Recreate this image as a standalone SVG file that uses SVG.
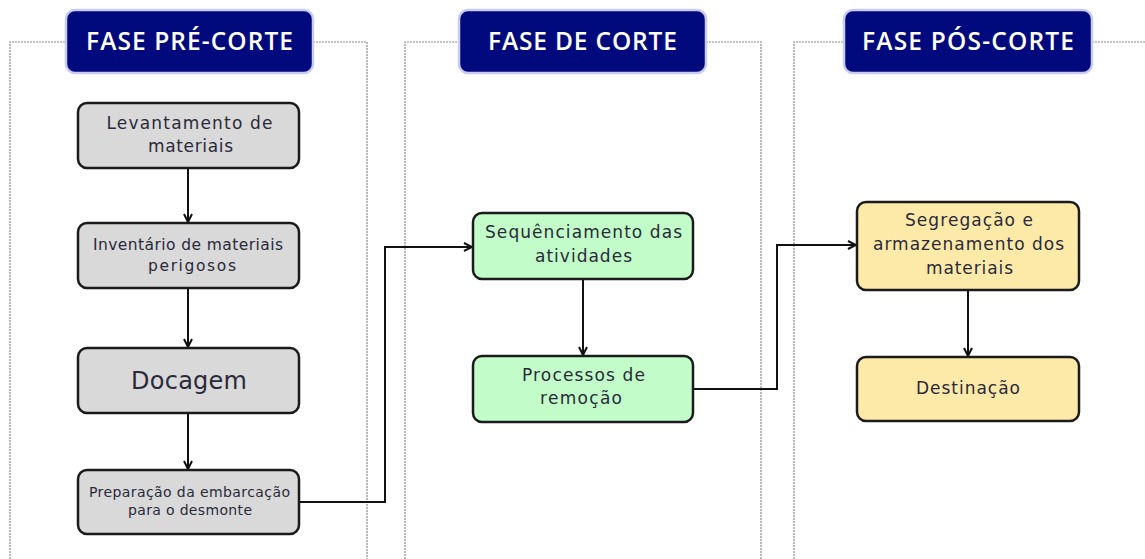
<svg xmlns="http://www.w3.org/2000/svg" width="1145" height="559" viewBox="0 0 1145 559">
<defs>
<marker id="ah" viewBox="0 0 10 10" refX="9" refY="5" markerWidth="5" markerHeight="5" orient="auto-start-reverse" markerUnits="strokeWidth">
<path d="M1,1 L9,5 L1,9" fill="none" stroke="#111" stroke-width="2"/>
</marker>
<style>
.frame{fill:none;stroke:#8a8a8a;stroke-width:1.2;stroke-dasharray:2 1}
.hdr rect{fill:#010a7c;stroke:#c9cbf0;stroke-width:2.5}
.hdr text{fill:#fff;font-family:"Open Sans","Liberation Sans",sans-serif;font-weight:600;font-size:24.5px;text-anchor:middle}
.node rect{stroke:#1b1b1b;stroke-width:2.5}
.gray rect{fill:#d9d9d9}
.green rect{fill:#c2fcc8}
.yellow rect{fill:#fde9a8}
.node text{fill:#2a2a3a;font-family:"DejaVu Sans","Open Sans",sans-serif;font-size:17px;text-anchor:middle}
.conn path{fill:none;stroke:#111;stroke-width:2;marker-end:url(#ah)}
</style>
</defs>
<rect width="1145" height="559" fill="#fff"/>
<g id="frames">
<path class="frame" d="M10,559 V42 H66 M313,42 H367 V559"/>
<path class="frame" d="M405,559 V42 H459 M706,42 H761 V559"/>
<path class="frame" d="M794,559 V42 H844 M1092,42 H1145"/>
</g>
<g id="hdr1" class="hdr"><rect x="66" y="10" width="247" height="63" rx="9"/><text x="189.5" y="50" textLength="207" lengthAdjust="spacing">FASE PRÉ-CORTE</text></g>
<g id="hdr2" class="hdr"><rect x="459" y="10" width="247" height="63" rx="9"/><text x="582.5" y="50" textLength="189" lengthAdjust="spacing">FASE DE CORTE</text></g>
<g id="hdr3" class="hdr"><rect x="844" y="10" width="248" height="63" rx="9"/><text x="968" y="50" textLength="212" lengthAdjust="spacing">FASE PÓS-CORTE</text></g>
<g id="connectors" class="conn">
<path d="M188,168 V222"/>
<path d="M188,288 V347"/>
<path d="M188,413 V469"/>
<path d="M299,502 H385 V247 H472"/>
<path d="M583,279 V355"/>
<path d="M693,389 H777 V245 H856"/>
<path d="M968,290 V356"/>
</g>
<g id="n1" class="node gray"><rect x="78" y="103" width="221" height="65" rx="9"/><text x="189.5" y="129" textLength="166" lengthAdjust="spacing">Levantamento de</text><text x="190.5" y="152" textLength="85" lengthAdjust="spacing">materiais</text></g>
<g id="n2" class="node gray"><rect x="78" y="223" width="221" height="65" rx="9"/><text x="188" y="250" style="font-size:15.5px" textLength="190" lengthAdjust="spacing">Inventário de materiais</text><text x="192" y="271" style="font-size:15.5px" textLength="88" lengthAdjust="spacing">perigosos</text></g>
<g id="n3" class="node gray"><rect x="78" y="348" width="221" height="65" rx="9"/><text x="189" y="389" style="font-size:24px" textLength="116" lengthAdjust="spacing">Docagem</text></g>
<g id="n4" class="node gray"><rect x="78" y="470" width="221" height="64" rx="9"/><text x="189.5" y="497" style="font-size:14px" textLength="201" lengthAdjust="spacing">Preparação da embarcação</text><text x="190" y="515" style="font-size:14px" textLength="124" lengthAdjust="spacing">para o desmonte</text></g>
<g id="n5" class="node green"><rect x="473" y="213" width="220" height="66" rx="9"/><text x="583.5" y="238" textLength="197" lengthAdjust="spacing">Sequênciamento das</text><text x="583.5" y="262" textLength="97" lengthAdjust="spacing">atividades</text></g>
<g id="n6" class="node green"><rect x="473" y="356" width="220" height="66" rx="9"/><text x="583.5" y="381" textLength="123" lengthAdjust="spacing">Processos de</text><text x="581" y="404" textLength="82" lengthAdjust="spacing">remoção</text></g>
<g id="n7" class="node yellow"><rect x="857" y="202" width="222" height="88" rx="9"/><text x="969" y="226" textLength="128" lengthAdjust="spacing">Segregação e</text><text x="968.5" y="250" textLength="191" lengthAdjust="spacing">armazenamento dos</text><text x="969.5" y="274" textLength="87" lengthAdjust="spacing">materiais</text></g>
<g id="n8" class="node yellow"><rect x="857" y="357" width="222" height="64" rx="9"/><text x="968" y="394" textLength="104" lengthAdjust="spacing">Destinação</text></g>
</svg>
